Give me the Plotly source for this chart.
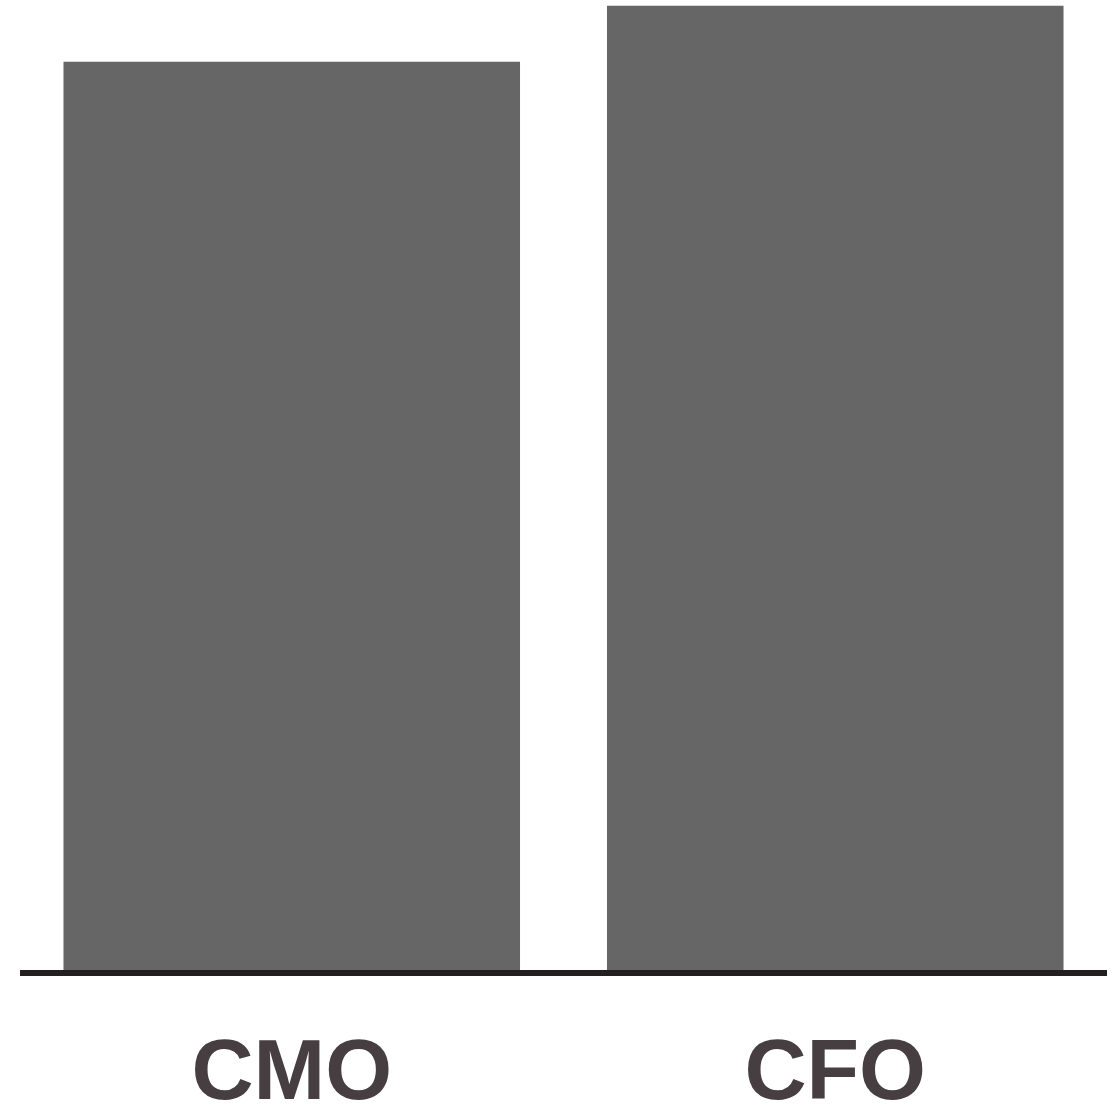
import plotly.graph_objects as go

categories = ["CMO", "CFO"]
values = [94.2, 100.0]

fig = go.Figure(
    go.Bar(
        x=categories,
        y=values,
        marker=dict(color="#666666", line=dict(width=0)),
        width=0.84,
    )
)

fig.update_layout(
    width=1117,
    height=1107,
    margin=dict(l=19.5, r=9.5, t=0, b=137, autoexpand=False),
    paper_bgcolor="white",
    plot_bgcolor="white",
    showlegend=False,
)
fig.update_xaxes(
    range=[-0.5, 1.5],
    automargin=False,
    showline=True,
    linecolor="#231f20",
    linewidth=6,
    showgrid=False,
    ticks="",
    tickfont=dict(family="Liberation Sans", size=86, color="#463e41", weight="bold"),
    ticklabelstandoff=20,
)
fig.update_yaxes(
    range=[0, 100.6],
    visible=False,
    automargin=False,
    showgrid=False,
    zeroline=False,
)

fig.write_html("out.html")
